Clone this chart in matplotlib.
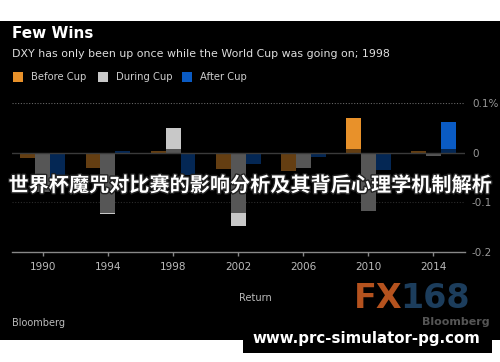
import matplotlib
matplotlib.use("Agg")
import matplotlib.pyplot as plt
import matplotlib.patheffects as pe
from matplotlib.patches import Rectangle

# World Cup years and DXY returns (%)
years = [1990, 1994, 1998, 2002, 2006, 2010, 2014]
before_cup = [-0.010, -0.031, 0.004, -0.032, -0.037, 0.069, 0.003]
during_cup = [-0.080, -0.123, 0.050, -0.148, -0.030, -0.118, -0.007]
after_cup = [-0.050, 0.003, -0.045, -0.022, -0.009, -0.034, 0.062]
series_names = ["Before Cup", "During Cup", "After Cup"]
series_colors = ["#E8912A", "#C8C8C8", "#0A5BC4"]
ytick_vals = [0.1, 0.0, -0.1, -0.2]
ytick_labels = ["0.1%", "0", "-0.1", "-0.2"]

W, H = 500, 362
fig = plt.figure(figsize=(W / 100, H / 100), dpi=100)
fig.patch.set_facecolor("white")

def fx(px):
    return px / W

def fy(py):
    return 1 - py / H

# black panel (behind the axes)
fig.patches.append(Rectangle((0, fy(340)), 1, fy(21) - fy(340), transform=fig.transFigure,
                             facecolor="black", edgecolor="none", zorder=-5))
fig.patches.append(Rectangle((fx(243), fy(353)), fx(492) - fx(243), fy(325) - fy(353),
                             transform=fig.transFigure, facecolor="black", edgecolor="none", zorder=-5))

ax = fig.add_axes([fx(12), fy(252), fx(465) - fx(12), fy(103) - fy(252)])
ax.set_facecolor("none")

bw = 0.92
for i, (vals, color) in enumerate(zip([before_cup, during_cup, after_cup], series_colors)):
    xs = [y + (i - 1) * bw for y in years]
    ax.bar(xs, vals, width=bw, color=color, edgecolor="none", zorder=2)

# dim overlay as in the screenshot
ax.axhspan(-0.121, 0.007, color="black", alpha=0.57, lw=0, zorder=3)
ax.axhline(0, color="#3a3a3a", lw=1, zorder=4)
for v in [0.1, -0.1]:
    ax.axhline(v, color="#666666", lw=0.8, ls=(0, (1, 1.5)), zorder=1)

ax.set_xlim(1988.1, 2015.95)
ax.set_ylim(-0.2, 0.1)
ax.set_xticks(years)
ax.set_xticklabels([str(y) for y in years], color="#bbbbbb", fontsize=7.5)
ax.set_yticks(ytick_vals)
ax.set_yticklabels(ytick_labels, color="#999999", fontsize=7.5)
ax.yaxis.tick_right()
ax.tick_params(axis="y", length=0, pad=5)
ax.tick_params(axis="x", length=3, color="#888888", width=1, pad=4, direction="out")
for side in ["top", "left", "right"]:
    ax.spines[side].set_visible(False)
ax.spines["bottom"].set_color("#888888")
ax.spines["bottom"].set_linewidth(1)

# titles
fig.text(fx(12), fy(33), "Few Wins", color="white", fontsize=11, fontweight="bold", va="center")
fig.text(fx(12), fy(54), "DXY has only been up once while the World Cup was going on; 1998",
         color="#dddddd", fontsize=7.95, va="center")

# legend
leg_x = [13, 98, 182]
for lx, name, color in zip(leg_x, series_names, series_colors):
    fig.patches.append(Rectangle((fx(lx), fy(82)), fx(10), fy(72) - fy(82), transform=fig.transFigure,
                                 facecolor=color, edgecolor="none"))
    fig.text(fx(lx + 18), fy(77), name, color="#cccccc", fontsize=7.2, va="center")

fig.text(fx(255), fy(298), "Return", color="#bbbbbb", fontsize=7, ha="center", va="center")
fig.text(fx(12), fy(323), "Bloomberg", color="#bbbbbb", fontsize=7, va="center")

# logo and watermarks
fig.text(fx(354), fy(298), "FX", color="#B4521E", fontsize=24, fontweight="bold", va="center")
fig.text(fx(400), fy(298), "168", color="#1C3D5C", fontsize=24, fontweight="bold", va="center")
fig.text(fx(490), fy(322), "Bloomberg", color="#555555", fontsize=8, fontweight="bold",
         ha="right", va="center")
fig.text(fx(252), fy(338), "www.prc-simulator-pg.com", color="white", fontsize=10.8,
         fontweight="bold", va="center")

fig.text(fx(250), fy(185), "世界杯魔咒对比赛的影响分析及其背后心理学机制解析",
         color="white", fontsize=14.5, fontweight="bold", ha="center", va="center",
         family=["Noto Sans CJK SC", "DejaVu Sans"],
         path_effects=[pe.withStroke(linewidth=2, foreground="#222222")])

fig.savefig("out.png", dpi=100, facecolor=fig.get_facecolor())
